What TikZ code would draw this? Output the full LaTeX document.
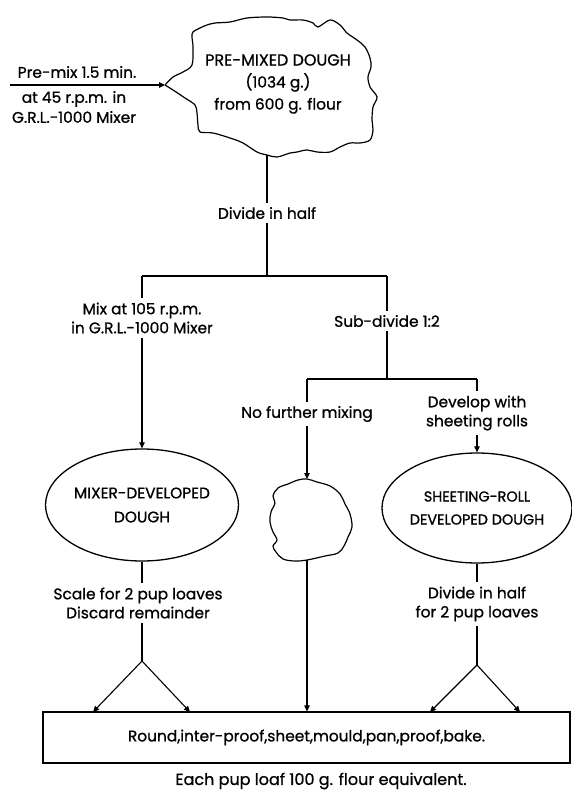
\documentclass[tikz,border=0pt]{standalone}
\usepackage{fontspec}
\setmainfont{Poppins}[FakeBold=0.9]
\usetikzlibrary{arrows.meta}
\usetikzlibrary{shapes.geometric}
\usetikzlibrary{positioning}

\begin{document}
\begin{tikzpicture}[
    x=1pt, y=-1pt,
    lbl/.style={align=center, inner sep=4pt, font=\fontsize{15.4}{19}\selectfont},
    dough/.style={ellipse, draw, line width=1.3pt, minimum width=193pt, minimum height=112pt, inner sep=0pt, align=center, font=\fontsize{15.4}{24}\selectfont},
    stagebox/.style={rectangle, draw, line width=1.2pt, minimum width=527pt, minimum height=51pt, font=\fontsize{15.4}{16}\selectfont},
    flow/.style={line width=1.1pt},
    >={Triangle[length=6pt, width=5.5pt]}
]

\useasboundingbox (0,0) rectangle (571,792);

% --- Pre-mixed dough ---
\node[lbl, font=\fontsize{16}{22}\selectfont] (premix) at (278,84) {PRE-MIXED DOUGH\\\fontsize{15.4}{22}\selectfont(1034 g.)\\\fontsize{15.4}{22}\selectfont from 600 g. flour};
\coordinate (premix-w) at (165,85);
\coordinate (premix-s) at (267,155);
\draw[line width=1.2pt] plot[smooth, tension=0.55] coordinates {
    (165,85) (173,77) (183,72) (192,65) (193,47) (192,37) (193,32) (200,28)
    (207,25) (215,23) (230,22) (247,18) (267,17) (283,18) (290,20) (303,20)
    (313,23) (318,27) (330,20) (340,25) (347,33) (357,40) (365,47) (370,58)
    (371,67) (368,77) (370,87) (377,97) (373,107) (372,120) (373,130)
    (370,140) (360,143) (350,143) (340,147) (330,152) (317,152) (307,150)
    (297,152) (290,153) (277,157) (267,155) (257,152) (243,143) (230,138)
    (213,133) (200,132) (198,125) (197,113) (195,105) (185,98) (173,90) (165,85)};

% --- Pre-mix input ---
\coordinate (feed) at (10,85);
\draw[flow, ->] (feed) -- (premix-w);
\node[lbl] (premixtxt) at (77,72) {Pre-mix 1.5 min.};
\node[lbl, font=\fontsize{15.4}{20}\selectfont] (mixertxt) at (74,107) {at 45 r.p.m. in\\G.R.L.-1000 Mixer};

% --- Divide in half ---
\node[lbl] (halve) at (267,213) {Divide in half};
\coordinate (split1) at (267,276);
\coordinate (split1-l) at (142,276);
\coordinate (split1-r) at (387,276);
\draw[flow] (premix-s) -- (halve);
\draw[flow] (halve) -- (split1);
\draw[flow] (split1-l) -- (split1-r);

% --- Mixer-developed branch ---
\node[lbl] (mixfast) at (142,318) {Mix at 105 r.p.m.\\in G.R.L.-1000 Mixer};
\node[dough] (mixdev) at (142,505) {MIXER-DEVELOPED\\DOUGH};
\draw[flow] (split1-l) -- (mixfast);
\draw[flow, ->] (mixfast) -- (mixdev);

% --- Sub-divide ---
\node[lbl] (subdiv) at (387,321) {Sub-divide 1:2};
\coordinate (split2) at (387,379);
\coordinate (split2-l) at (307,379);
\coordinate (split2-r) at (477,379);
\draw[flow] (split1-r) -- (subdiv);
\draw[flow] (subdiv) -- (split2);
\draw[flow] (split2-l) -- (split2-r);

% --- Unmixed piece ---
\node[lbl] (nomixtxt) at (307,414) {No further mixing};
\coordinate (nomix-n) at (307,479);
\coordinate (nomix-s) at (307,560);
\draw[line width=1.2pt] plot[smooth cycle, tension=0.6] coordinates {
    (307,479) (317,482) (330,486) (340,494) (345,504) (350,514) (352,527)
    (348,537) (344,546) (338,553) (325,556) (307,560) (295,561) (283,559)
    (276,552) (273,546) (277,540) (273,532) (270,522) (271,512) (275,503)
    (273,496) (278,488) (288,484) (298,480)};
\draw[flow] (split2-l) -- (nomixtxt);
\draw[flow, ->] (nomixtxt) -- (nomix-n);

% --- Sheeting-roll branch ---
\node[lbl] (sheettxt) at (477,413) {Develop with\\sheeting rolls};
\node[dough, minimum width=188pt, minimum height=110pt, font=\fontsize{14.4}{23}\selectfont] (sheetdev) at (477,508) {SHEETING-ROLL\\DEVELOPED DOUGH};
\draw[flow] (split2-r) -- (sheettxt);
\draw[flow, ->] (sheettxt) -- (sheetdev);

% --- Scaling ---
\node[lbl] (scaletxt) at (138,603) {Scale for 2 pup loaves\\Discard remainder};
\node[lbl] (halftxt) at (477,604) {Divide in half\\for 2 pup loaves};
\coordinate (fork-l) at (142,661);
\coordinate (fork-r) at (477,665);
\draw[flow] (mixdev) -- (mixdev |- scaletxt.north);
\draw[flow] (mixdev |- scaletxt.south) -- (fork-l);
\draw[flow] (sheetdev) -- (halftxt);
\draw[flow] (halftxt) -- (fork-r);

% --- Final processing ---
\node[stagebox] (bake) at (306.5,737.5) {Round,inter-proof,sheet,mould,pan,proof,bake.};
\foreach \x/\n in {93/a, 190/b, 430/c, 520/d}
    \coordinate (bake-\n) at (\x,712);
\foreach \n in {a,b}
    \draw[flow, ->] (fork-l) -- (bake-\n);
\foreach \n in {c,d}
    \draw[flow, ->] (fork-r) -- (bake-\n);
\draw[flow, ->] (nomix-s) -- (bake.north -| nomix-s);

\node[lbl, inner sep=1pt, font=\fontsize{16}{18}\selectfont] (note) at (321,781) {Each pup loaf 100 g. flour equivalent.};

\end{tikzpicture}
\end{document}
